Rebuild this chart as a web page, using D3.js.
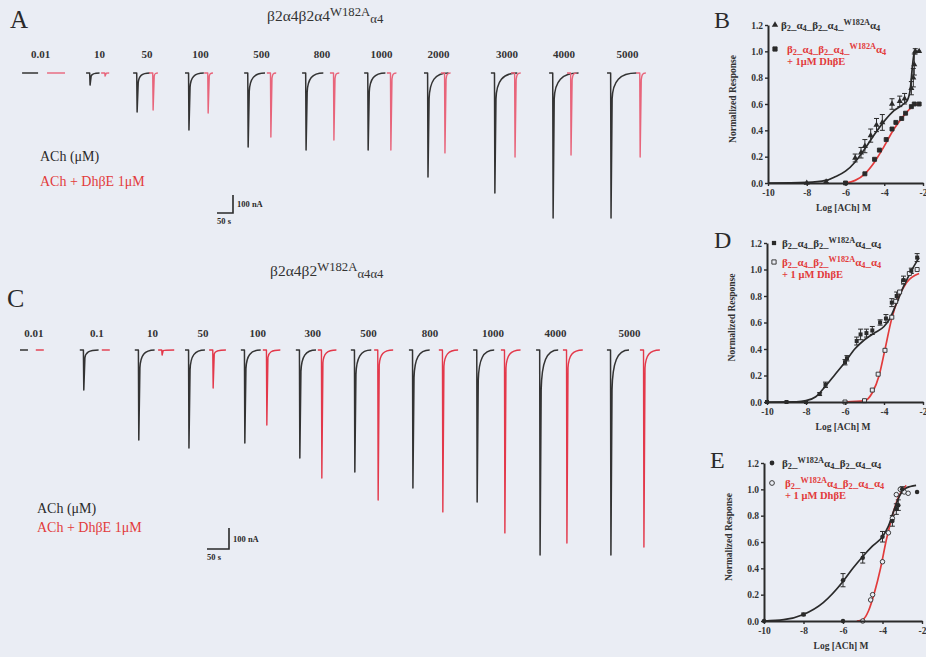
<!DOCTYPE html>
<html>
<head>
<meta charset="utf-8">
<script src="https://cdn.jsdelivr.net/npm/d3@7"></script>
<style>
  html, body { margin: 0; padding: 0; background: #eceff5; }
  svg { display: block; }
</style>
</head>
<body>
<svg id="fig" width="926" height="657"></svg>
<script>
// ---------------- DATA ----------------
// Panel A: β2α4β2α4(W182A)α4 current traces
const concA = ["0.01", "10", "50", "100", "500", "800", "1000", "2000", "3000", "4000", "5000"];
const timeA_ach  = [19, 219, 366, 528, 713, 894, 1088, 1275, 1484, 1666, 1847];   // s
const timeA_dhbe = [97, 266, 416, 588, 784, 981, 1159, 1328, 1547, 1722, 1938];   // s
const ampA_ach   = [0, 67, 217, 317, 411, 428, 428, 578, 667, 806, 806];          // nA
const ampA_dhbe  = [0, 17, 206, 222, 356, 372, 428, 444, 467, 456, 467];          // nA

// Panel C: β2α4β2(W182A)α4α4 current traces
const concC = ["0.01", "0.1", "10", "50", "100", "300", "500", "800", "1000", "4000", "5000"];
const timeC_ach  = [9, 145, 270, 384, 511, 636, 761, 893, 1039, 1182, 1343];
const timeC_dhbe = [45, 195, 323, 439, 561, 686, 814, 961, 1102, 1243, 1418];
const ampC_ach   = [0, 190, 429, 467, 443, 514, 581, 657, 724, 976, 976];
const ampC_dhbe  = [0, 0, 24, 181, 357, 610, 714, 771, 871, 919, 938];

// Concentration-response axes
const logTicks  = [-10, -8, -6, -4, -2];
const respTicks = [0, 0.2, 0.4, 0.6, 0.8, 1.0, 1.2];

// Panel B
const bAchX   = [-8, -7, -5.5, -5.2, -5.0, -4.7, -4.4, -4.1, -3.6, -3.2, -2.95, -2.6, -2.5, -2.45, -2.4, -2.2];
const bAchY   = [0, 0.01, 0.19, 0.23, 0.28, 0.36, 0.44, 0.46, 0.60, 0.62, 0.64, 0.72, 0.80, 0.90, 1.0, 1.0];
const bAchErr = [0, 0.01, 0.03, 0.04, 0.05, 0.05, 0.05, 0.06, 0.04, 0.04, 0.04, 0.05, 0.07, 0.08, 0.02, 0.0];
const bDhX    = [-6, -5, -4.5, -4.25, -3.9, -3.6, -3.4, -3.1, -2.9, -2.6, -2.45, -2.2];
const bDhY    = [0, 0.07, 0.18, 0.25, 0.33, 0.41, 0.46, 0.49, 0.53, 0.58, 0.60, 0.60];
const bAchFitX = [-10, -8, -7, -6.5, -6, -5.5, -5, -4.5, -4, -3.5, -3, -2.8, -2.65, -2.55, -2.45, -2.35, -2.1];
const bAchFitY = [0, 0.005, 0.02, 0.05, 0.09, 0.16, 0.26, 0.37, 0.47, 0.55, 0.60, 0.63, 0.72, 0.88, 0.99, 1.0, 1.0];
const bDhFitX  = [-6, -5.5, -5, -4.5, -4, -3.5, -3, -2.7, -2.5, -2.1];
const bDhFitY  = [0, 0.02, 0.07, 0.16, 0.28, 0.41, 0.51, 0.56, 0.59, 0.60];

// Panel D
const dAchX   = [-10, -9, -8, -7.3, -7, -6, -5.9, -5.4, -5.2, -4.9, -4.6, -4.2, -3.9, -3.6, -3.35, -3.0, -2.6, -2.3];
const dAchY   = [0, 0, 0, 0.06, 0.13, 0.30, 0.33, 0.46, 0.51, 0.52, 0.54, 0.60, 0.63, 0.75, 0.80, 0.92, 0.99, 1.09];
const dAchErr = [0, 0, 0, 0.01, 0.02, 0.02, 0.02, 0.03, 0.04, 0.03, 0.03, 0.02, 0.03, 0.03, 0.03, 0.03, 0.02, 0.03];
const dDhX    = [-6, -5, -4.6, -4.3, -3.95, -3.6, -3.4, -3.2, -3.0, -2.7, -2.3];
const dDhY    = [0, 0.01, 0.09, 0.21, 0.39, 0.64, 0.76, 0.83, 0.91, 0.97, 1.0];
const dAchFitX = [-10, -8.5, -8, -7.5, -7, -6.5, -6, -5.5, -5, -4.5, -4, -3.7, -3.4, -3, -2.6, -2.2];
const dAchFitY = [0, 0.002, 0.01, 0.04, 0.12, 0.21, 0.30, 0.40, 0.47, 0.52, 0.57, 0.63, 0.73, 0.87, 0.99, 1.09];
const dDhFitX  = [-6, -5, -4.6, -4.25, -3.96, -3.62, -3.28, -2.85, -2.2];
const dDhFitY  = [0, 0.01, 0.07, 0.20, 0.39, 0.62, 0.78, 0.90, 0.97];

// Panel E
const eAchX   = [-10, -8, -6, -6, -5, -4, -3.5, -3.3, -3.2, -3.0, -2.25];
const eAchY   = [0, 0.05, 0.31, 0, 0.48, 0.64, 0.76, 0.85, 0.88, 1.0, 0.98];
const eAchErr = [0, 0.01, 0.05, 0, 0.04, 0.04, 0.04, 0.04, 0.04, 0.02, 0];
const eDhX    = [-5, -4.6, -4.5, -4.0, -3.7, -3.5, -3.3, -3.1, -2.9, -2.7];
const eDhY    = [0, 0.16, 0.20, 0.45, 0.67, 0.78, 0.96, 1.0, 0.98, 0.97];
const eAchFitX = [-10, -9, -8, -7, -6, -5.5, -5, -4.5, -4, -3.7, -3.4, -3.1, -2.8, -2.3];
const eAchFitY = [0, 0.01, 0.05, 0.14, 0.30, 0.40, 0.49, 0.57, 0.64, 0.72, 0.85, 0.96, 1.01, 1.03];
const eDhFitX  = [-5.3, -5, -4.7, -4.4, -4.1, -3.8, -3.5, -3.2, -2.9, -2.8];
const eDhFitY  = [0, 0.01, 0.08, 0.22, 0.40, 0.62, 0.80, 0.94, 1.01, 1.03];

// ---------------- STYLE ----------------
const INK = "#2a2a2a";
const RED = "#e23b3b";
const BG = "#eaedf4";
const SERIF = "'Liberation Serif', 'Times New Roman', 'DejaVu Serif', serif";

const svg = d3.select("#fig");
svg.append("rect").attr("width", 926).attr("height", 657).attr("fill", BG);

// rich text helper: ~{..} subscript, ^{..} superscript
function rich(sel, s, base, sub = 0.2, sup = -0.38, k = 0.75) {
  const re = /(~\{[^}]*\}|\^\{[^}]*\}|[^~^]+)/g;
  let m, off = 0;
  while ((m = re.exec(s))) {
    const t = m[0];
    let shift = 0, fs = null, content = t;
    if (t.startsWith("~{")) { shift = sub * base; fs = k * base; content = t.slice(2, -1); }
    else if (t.startsWith("^{")) { shift = sup * base; fs = k * base; content = t.slice(2, -1); }
    const ts = sel.append("tspan").text(content).attr("dy", shift - off);
    if (fs) ts.attr("font-size", fs);
    off = shift;
  }
}

function label(x, y, txt, size, opts = {}) {
  const t = svg.append("text").attr("x", x).attr("y", y)
    .attr("font-family", SERIF).attr("font-size", size)
    .attr("font-weight", opts.bold ? "bold" : "normal")
    .attr("fill", opts.fill || INK)
    .attr("text-anchor", opts.anchor || "start");
  if (opts.rich) rich(t, txt, size, opts.sub, opts.sup, opts.k); else t.text(txt);
  return t;
}

// ---------------- TRACES ----------------
// st = {rK, rMax, w0, wK, wZero}: recovery-curve drawing style
function tracePath(x, base, a, st) {
  const p = d3.path();
  p.moveTo(x - 4, base);
  p.lineTo(x - 0.4, base);
  if (a > 0) {
    const r = Math.min(a * st.rK, st.rMax);
    const w = st.w0 + a * st.wK;
    p.lineTo(x, base + a);
    p.lineTo(x + 1.1, base + r);
    p.bezierCurveTo(x + 1.7, base + r * 0.3, x + w * 0.35, base, x + w, base);
  } else {
    p.lineTo(x + st.wZero, base);
  }
  return p.toString();
}

function tracePanel(cfg) {
  const t = d3.scaleLinear().domain([0, 50]).range([cfg.x0, cfg.x0 + cfg.pxPer50s]);
  const a = d3.scaleLinear().domain([0, 100]).range([0, cfg.pxPer100nA]);
  const g = svg.append("g");
  cfg.conc.forEach((c, i) => {
    const xb = t(cfg.tAch[i]), xr = t(cfg.tDh[i]);
    g.append("path").attr("d", tracePath(xb, cfg.base, a(cfg.aAch[i]), cfg.stBlack))
      .attr("fill", "none").attr("stroke", cfg.black).attr("stroke-width", 1.5).attr("stroke-linejoin", "round");
    g.append("path").attr("d", tracePath(xr, cfg.base, a(cfg.aDh[i]), cfg.stRed))
      .attr("fill", "none").attr("stroke", cfg.red).attr("stroke-width", 1.4).attr("stroke-linejoin", "round");
    label((xb + xr) / 2 + 2, cfg.labelY, c, 11, { bold: true, anchor: "middle", fill: "#333" });
  });
  // scale bar
  const sx = cfg.barX, sy = cfg.barY;
  g.append("path")
    .attr("d", `M${sx - cfg.pxPer50s},${sy} L${sx},${sy} L${sx},${sy - a(100)}`)
    .attr("fill", "none").attr("stroke", INK).attr("stroke-width", 1.6);
  label(sx + 4, sy - a(100) / 2 + 3, "100 nA", 8.5, { bold: true });
  label(sx - cfg.pxPer50s, sy + 11, "50 s", 8.5, { bold: true });
}

tracePanel({
  conc: concA, tAch: timeA_ach, tDh: timeA_dhbe, aAch: ampA_ach, aDh: ampA_dhbe,
  x0: 20, pxPer50s: 16, pxPer100nA: 18, base: 73, labelY: 58,
  stBlack: { rK: 0.25, rMax: 26, w0: 8, wK: 0.12, wZero: 12 },
  stRed:   { rK: 0.08, rMax: 12, w0: 4, wK: 0.02, wZero: 14 },
  black: "#333", red: "#e8647a", barX: 233, barY: 213
});
tracePanel({
  conc: concC, tAch: timeC_ach, tDh: timeC_dhbe, aAch: ampC_ach, aDh: ampC_dhbe,
  x0: 20, pxPer50s: 22, pxPer100nA: 21, base: 350, labelY: 337,
  stBlack: { rK: 0.2, rMax: 40, w0: 14, wK: 0.02, wZero: 4 },
  stRed:   { rK: 0.1, rMax: 18, w0: 12, wK: 0.02, wZero: 4 },
  black: "#333", red: "#e3384a", barX: 229, barY: 549
});

// panel letters, titles, keys
label(10, 28, "A", 25);
label(7, 307, "C", 26);
label(714, 28, "B", 24);
label(714, 248, "D", 24);
label(710, 468, "E", 24);

label(267, 21, "β2α4β2α4^{W182A}~{α4}", 15.5, { rich: true, fill: "#333", sub: 0.12, sup: -0.3, k: 0.82 });
label(270, 276, "β2α4β2^{W182A}~{α4α4}", 15.5, { rich: true, fill: "#333", sub: 0.12, sup: -0.3, k: 0.82 });

label(40, 161, "ACh (μM)", 14);
label(40, 186, "ACh + DhβE 1μM", 14, { fill: RED });
label(37, 513, "ACh (μM)", 14);
label(37, 532, "ACh + DhβE 1μM", 14, { fill: RED });

// ---------------- CONCENTRATION-RESPONSE PANELS ----------------
function drPanel(cfg) {
  const x = d3.scaleLinear().domain([-10, -2]).range([cfg.left, cfg.right]);
  const y = d3.scaleLinear().domain([0, 1.2]).range([cfg.bottom, cfg.top]);
  const g = svg.append("g");

  const line = d3.line().x(d => x(d[0])).y(d => y(d[1])).curve(d3.curveMonotoneX);
  g.append("path").datum(d3.zip(cfg.dhFitX, cfg.dhFitY)).attr("d", line)
    .attr("fill", "none").attr("stroke", RED).attr("stroke-width", 1.7);
  g.append("path").datum(d3.zip(cfg.achFitX, cfg.achFitY)).attr("d", line)
    .attr("fill", "none").attr("stroke", INK).attr("stroke-width", 1.7);

  // error bars
  const eb = g.append("g").attr("stroke", INK).attr("stroke-width", 1);
  cfg.achX.forEach((v, i) => {
    const e = cfg.achErr[i];
    if (!e) return;
    const cx = x(v), y1 = y(cfg.achY[i] + e), y2 = y(cfg.achY[i] - e);
    eb.append("line").attr("x1", cx).attr("x2", cx).attr("y1", y1).attr("y2", y2);
    eb.append("line").attr("x1", cx - 2.5).attr("x2", cx + 2.5).attr("y1", y1).attr("y2", y1);
    eb.append("line").attr("x1", cx - 2.5).attr("x2", cx + 2.5).attr("y1", y2).attr("y2", y2);
  });

  const sym = (type, size) => d3.symbol().type(type).size(size)();
  g.selectAll(".dh").data(d3.zip(cfg.dhX, cfg.dhY)).join("path")
    .attr("transform", d => `translate(${x(d[0])},${y(d[1])})`)
    .attr("d", sym(cfg.dhSym, 16))
    .attr("fill", cfg.dhOpen ? BG : INK).attr("stroke", INK).attr("stroke-width", 0.9);
  g.selectAll(".ach").data(d3.zip(cfg.achX, cfg.achY)).join("path")
    .attr("transform", d => `translate(${x(d[0])},${y(d[1])})`)
    .attr("d", sym(cfg.achSym, 16)).attr("fill", INK);

  // axes
  const ax = g.append("g").attr("transform", `translate(0,${cfg.bottom})`)
    .call(d3.axisBottom(x).tickValues(logTicks).tickFormat(d => String(d)).tickSize(3).tickSizeOuter(0).tickPadding(3));
  const ay = g.append("g").attr("transform", `translate(${cfg.left},0)`)
    .call(d3.axisLeft(y).tickValues(respTicks).tickFormat(d3.format(".1f")).tickSize(3).tickSizeOuter(0).tickPadding(2));
  [ax, ay].forEach(a => {
    a.select(".domain").attr("stroke", INK).attr("stroke-width", 2);
    a.selectAll(".tick line").attr("stroke", INK).attr("stroke-width", 1.4);
    a.selectAll("text").attr("font-family", SERIF).attr("font-weight", "bold")
      .attr("font-size", 9.5).attr("fill", "#333");
  });

  label((cfg.left + cfg.right) / 2 - 2, cfg.bottom + 28, "Log [ACh] M", 9.5, { bold: true, anchor: "middle", fill: "#333" });
  svg.append("text")
    .attr("transform", `translate(${cfg.left - 32},${(cfg.top + cfg.bottom) / 2 - 5}) rotate(-90)`)
    .attr("text-anchor", "middle").attr("font-family", SERIF).attr("font-weight", "bold")
    .attr("font-size", 9.5).attr("fill", "#333").text("Normalized Response");

  // legend
  const L = cfg.legend;
  g.append("path").attr("transform", `translate(${L.mx},${L.my1})`).attr("d", sym(cfg.achSym, 18)).attr("fill", INK);
  g.append("path").attr("transform", `translate(${L.mx},${L.my2})`).attr("d", sym(cfg.dhSym, 18))
    .attr("fill", cfg.dhOpen ? BG : INK).attr("stroke", INK).attr("stroke-width", 0.9);
  label(L.tx, L.my1 + 4, cfg.name, 11, { rich: true, bold: true, fill: "#333" });
  label(L.tx2, L.my2 + 4, cfg.name, 11, { rich: true, bold: true, fill: RED });
  label(L.tx2, L.my2 + 16, cfg.plus, 10.5, { bold: true, fill: RED });
}

drPanel({
  left: 768, right: 923, top: 25, bottom: 183,
  achX: bAchX, achY: bAchY, achErr: bAchErr, dhX: bDhX, dhY: bDhY,
  achFitX: bAchFitX, achFitY: bAchFitY, dhFitX: bDhFitX, dhFitY: bDhFitY,
  achSym: d3.symbolTriangle, dhSym: d3.symbolSquare, dhOpen: false,
  name: "β~{2}_α~{4}_β~{2}_α~{4}_^{W182A}α~{4}", plus: "+ 1μM DhβE",
  legend: { mx: 775, my1: 25, my2: 49, tx: 781, tx2: 787 }
});
drPanel({
  left: 767, right: 923, top: 243, bottom: 402,
  achX: dAchX, achY: dAchY, achErr: dAchErr, dhX: dDhX, dhY: dDhY,
  achFitX: dAchFitX, achFitY: dAchFitY, dhFitX: dDhFitX, dhFitY: dDhFitY,
  achSym: d3.symbolSquare, dhSym: d3.symbolSquare, dhOpen: true,
  name: "β~{2}_α~{4}_β~{2}_^{W182A}α~{4}_α~{4}", plus: "+ 1 μM DhβE",
  legend: { mx: 774, my1: 243, my2: 262, tx: 782, tx2: 782 }
});
drPanel({
  left: 764, right: 922, top: 463, bottom: 621,
  achX: eAchX, achY: eAchY, achErr: eAchErr, dhX: eDhX, dhY: eDhY,
  achFitX: eAchFitX, achFitY: eAchFitY, dhFitX: eDhFitX, dhFitY: eDhFitY,
  achSym: d3.symbolCircle, dhSym: d3.symbolCircle, dhOpen: true,
  name: "β~{2}_^{W182A}α~{4}_β~{2}_α~{4}_α~{4}", plus: "+ 1 μM DhβE",
  legend: { mx: 772, my1: 463, my2: 483, tx: 782, tx2: 785 }
});
</script>
</body>
</html>
